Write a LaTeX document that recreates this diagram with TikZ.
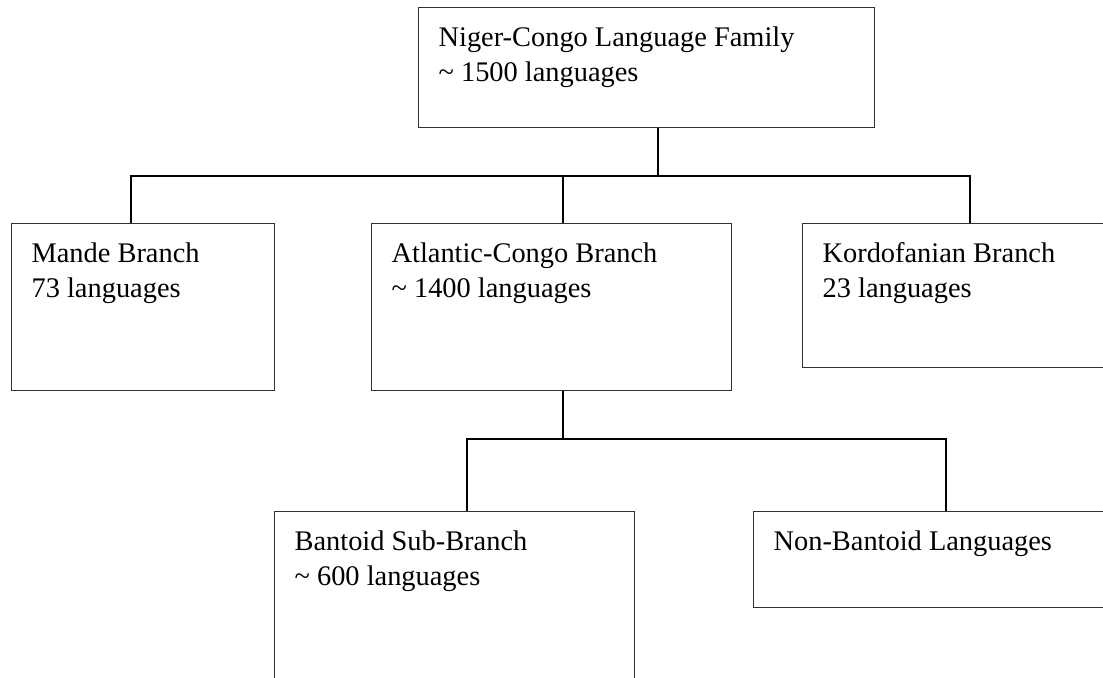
\documentclass[tikz,border=0pt]{standalone}
\usepackage{fontspec}
\setmainfont{Liberation Serif}
\usepackage{tikz}

\newcommand{\boxtext}[3]{\parbox[t][#2][t]{#1}{\strut #3}}

\begin{document}
\begin{tikzpicture}[x=0.5pt,y=-0.5pt,
	langbox/.style={draw=black!80, line width=0.6pt, anchor=north west,
		inner xsep=10pt, inner ysep=7.25pt, font=\fontsize{14.2}{17.5}\selectfont},
	link/.style={line width=1pt}]
	\useasboundingbox (0,0) rectangle (1103,677);
	
	\node[langbox] (family) at (418,7) {\boxtext{208pt}{45.5pt}{Niger-Congo Language Family\\\textasciitilde{} 1500 languages}};
	\node[langbox] (mande) at (11,223) {\boxtext{111.5pt}{69pt}{Mande Branch\\73 languages}};
	\node[langbox] (atlantic) at (371,223) {\boxtext{160pt}{69pt}{Atlantic-Congo Branch\\\textasciitilde{} 1400 languages}};
	\node[langbox] (kordofanian) at (802,223) {\boxtext{135pt}{57.5pt}{Kordofanian Branch\\23 languages}};
	\node[langbox] (bantoid) at (274,511) {\boxtext{160pt}{85.5pt}{Bantoid Sub-Branch\\\textasciitilde{} 600 languages}};
	\node[langbox] (nonbantoid) at (753,511) {\boxtext{160pt}{33.5pt}{Non-Bantoid Languages}};
	
	% branch points
	\coordinate (famout) at ([xshift=120pt]family.south west);
	\coordinate (bus1) at ([yshift=-24pt]famout);
	\coordinate (mandein) at ([xshift=60pt]mande.north west);
	\coordinate (atlin) at ([xshift=96pt]atlantic.north west);
	\coordinate (kordin) at ([xshift=84pt]kordofanian.north west);
	\coordinate (atlout) at ([xshift=96pt]atlantic.south west);
	\coordinate (bus2) at ([yshift=-24pt]atlout);
	\coordinate (bantin) at ([xshift=96.5pt]bantoid.north west);
	\coordinate (nonbantin) at ([xshift=96.5pt]nonbantoid.north west);
	
	\draw[link] (famout) -- (bus1);
	\draw[link] (mandein) |- (bus1) -| (kordin);
	\draw[link] (atlin) -- (atlin |- bus1);
	\draw[link] (atlout) -- (bus2);
	\draw[link] (bantin) |- (bus2) -| (nonbantin);
	
\end{tikzpicture}
\end{document}
